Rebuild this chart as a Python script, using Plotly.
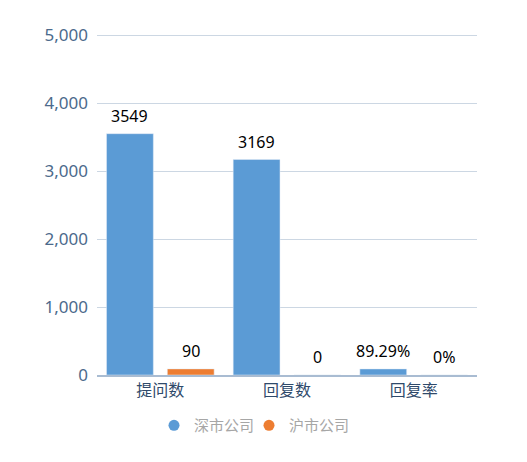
import plotly.graph_objects as go

categories = ["提问数", "回复数", "回复率"]
sz_values = [3549, 3169, 89.29]
sh_values = [90, 0, 0]
sz_labels = ["3549", "3169", "89.29%"]
sh_labels = ["90", "0", "0%"]
series_names = ["深市公司", "沪市公司"]
colors = ["#5B9BD5", "#ED7D31"]
y_ticks = [0, 1000, 2000, 3000, 4000, 5000]

font_family = "Noto Sans CJK SC, Noto Sans, sans-serif"

W, H = 527, 462
ML, MR, MT, MB = 89, 58, 26, 95
BARGAP = 0.04

fig = go.Figure()
for name, vals, col in zip(series_names, [sz_values, sh_values], colors):
    fig.add_trace(go.Bar(
        x=categories, y=vals, name=name, marker_color=col,
        showlegend=False,
    ))
for name, col in zip(series_names, colors):
    fig.add_trace(go.Scatter(
        x=[None], y=[None], mode="markers", name=name,
        marker=dict(symbol="circle", size=11, color=col),
    ))
# invisible spacer entry so the last legend label is not clipped
fig.add_trace(go.Scatter(x=[None], y=[None], mode="markers", name=" ",
                         marker=dict(size=1, color="rgba(0,0,0,0)")))

# data labels above bars (offset by half a group slot)
cat_w = (W - ML - MR) / len(categories)
slot = cat_w * (1 - BARGAP) / len(series_names)
for si, (vals, labels) in enumerate(zip([sz_values, sh_values], [sz_labels, sh_labels])):
    shift = (si - (len(series_names) - 1) / 2) * slot
    for c, v, lab in zip(categories, vals, labels):
        fig.add_annotation(x=c, y=v, text=lab, showarrow=False,
                           xanchor="center", yanchor="bottom", xshift=shift, yshift=5,
                           font=dict(size=16, color="#000000", family="Noto Sans, sans-serif"))

fig.update_layout(
    width=W, height=H,
    margin=dict(l=ML, r=MR, t=MT, b=MB),
    plot_bgcolor="white", paper_bgcolor="white",
    barmode="group", bargap=BARGAP, bargroupgap=0.23,
    font=dict(family=font_family),
    legend=dict(orientation="h", x=0.15, xanchor="left", y=-0.1, yanchor="top",
                font=dict(size=15, color="#A6A6A6", family=font_family),
                itemwidth=30, tracegroupgap=0, entrywidth=50),
    xaxis=dict(showline=True, linecolor="#A9BCD2", linewidth=1.5,
               tickfont=dict(size=16, color="#2F4A6B", family=font_family),
               ticks="", showgrid=False),
    yaxis=dict(range=[0, 5015], tickvals=y_ticks, tickformat=",",
               showgrid=True, gridcolor="#CCD7E3", gridwidth=1.3,
               zeroline=False, showline=False, ticks="",
               tickfont=dict(size=17, color="#4C6A8C", family="Noto Sans, sans-serif"),
               ticklabelstandoff=8),
)

fig.write_html("out.html")
